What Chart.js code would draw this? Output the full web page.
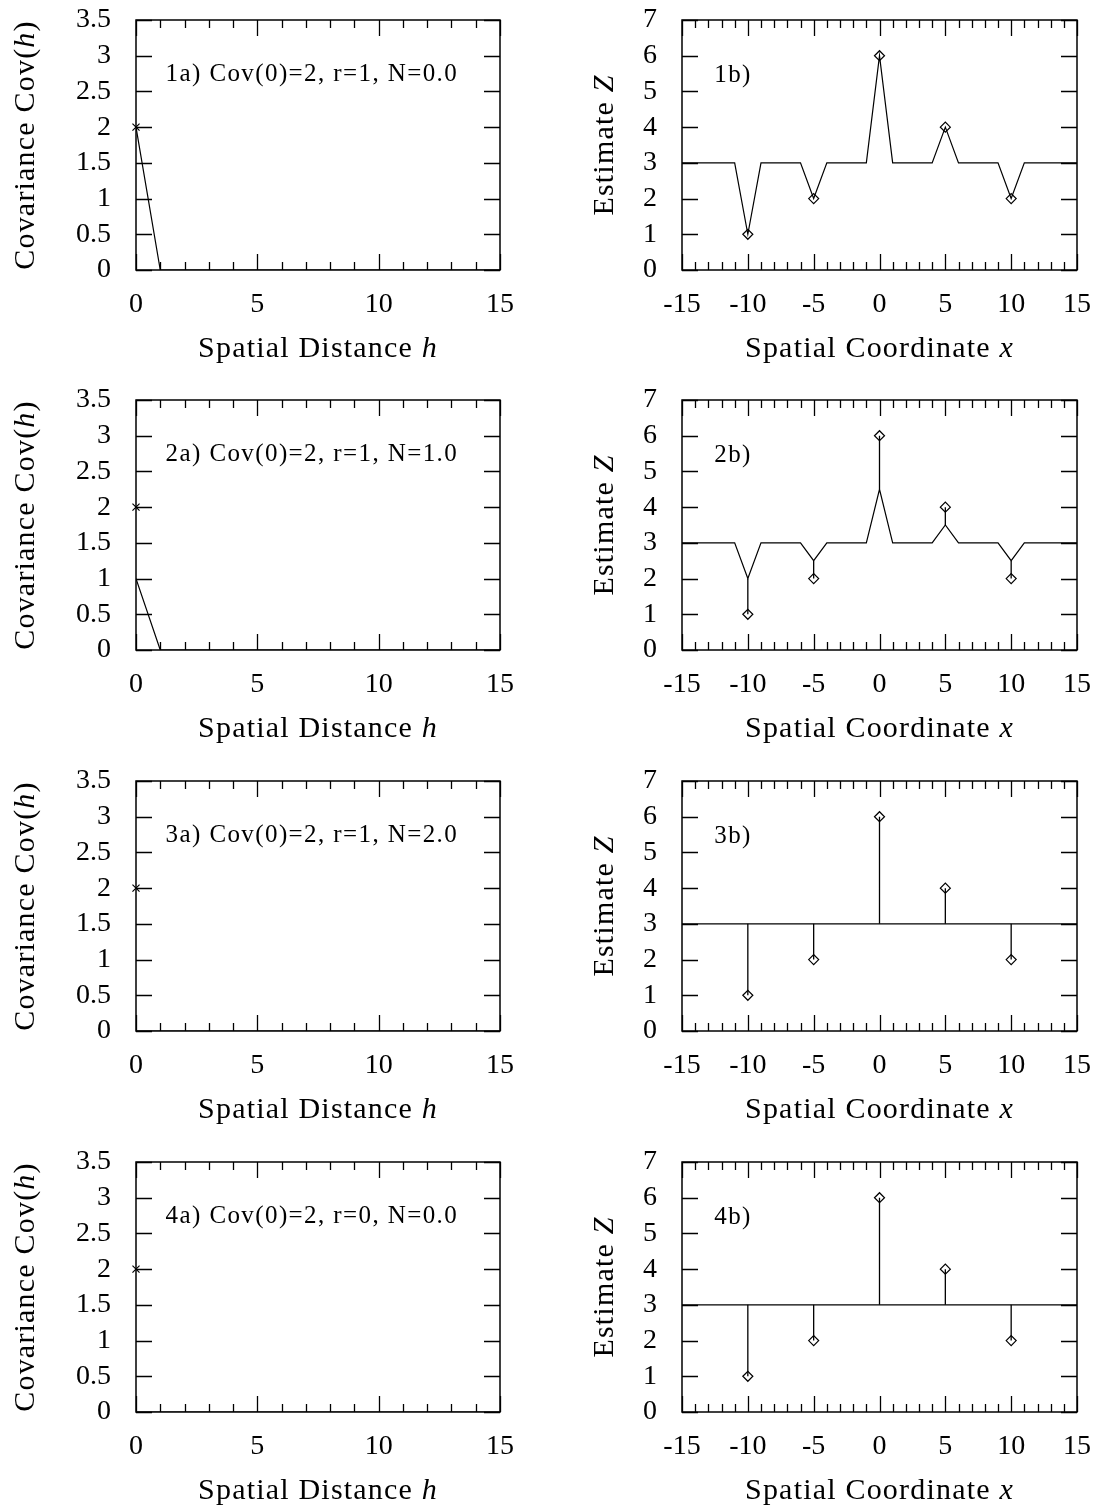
<!DOCTYPE html>
<html>
<head>
<meta charset="utf-8">
<script src="https://cdn.jsdelivr.net/npm/chart.js@4.4.1/dist/chart.umd.min.js"></script>
<style>
    html, body { margin: 0; padding: 0; background: #fff; }
    body { width: 1119px; height: 1508px; position: relative; overflow: hidden; }
    .painel { position: absolute; }
</style>
</head>
<body>
<script>
// observações (amostras) e grade de estimativa
const obsX = [-10, -5, 0, 5, 10];
const obsZ = [1, 2, 6, 4, 2];

const gradeX = [-15, -14, -13, -12, -11, -10, -9, -8, -7, -6, -5, -4, -3, -2, -1, 0,
                1, 2, 3, 4, 5, 6, 7, 8, 9, 10, 11, 12, 13, 14, 15];
const estimativa1 = [3, 3, 3, 3, 3, 1, 3, 3, 3, 3, 2, 3, 3, 3, 3, 6,
                     3, 3, 3, 3, 4, 3, 3, 3, 3, 2, 3, 3, 3, 3, 3];
const estimativa2 = [3, 3, 3, 3, 3, 2, 3, 3, 3, 3, 2.5, 3, 3, 3, 3, 4.5,
                     3, 3, 3, 3, 3.5, 3, 3, 3, 3, 2.5, 3, 3, 3, 3, 3];
const estimativa3 = [3, 3, 3, 3, 3, 3, 3, 3, 3, 3, 3, 3, 3, 3, 3, 3,
                     3, 3, 3, 3, 3, 3, 3, 3, 3, 3, 3, 3, 3, 3, 3];
const estimativa4 = [3, 3, 3, 3, 3, 3, 3, 3, 3, 3, 3, 3, 3, 3, 3, 3,
                     3, 3, 3, 3, 3, 3, 3, 3, 3, 3, 3, 3, 3, 3, 3];

// covariância em função da distância h
const distH = [0, 1, 2, 3, 4, 5, 6, 7, 8, 9, 10, 11, 12, 13, 14, 15];
const cov1 = [2, 0, 0, 0, 0, 0, 0, 0, 0, 0, 0, 0, 0, 0, 0, 0];
const cov2 = [1, 0, 0, 0, 0, 0, 0, 0, 0, 0, 0, 0, 0, 0, 0, 0];
const cov3 = [0, 0, 0, 0, 0, 0, 0, 0, 0, 0, 0, 0, 0, 0, 0, 0];
const cov4 = [0, 0, 0, 0, 0, 0, 0, 0, 0, 0, 0, 0, 0, 0, 0, 0];
const covZero = 2;

// rótulos dos eixos
const rotulosH = [0, 5, 10, 15];
const rotulosX = [-15, -10, -5, 0, 5, 10, 15];

const legendasA = ['1a) Cov(0)=2, r=1, N=0.0', '2a) Cov(0)=2, r=1, N=1.0',
                   '3a) Cov(0)=2, r=1, N=2.0', '4a) Cov(0)=2, r=0, N=0.0'];
const legendasB = ['1b)', '2b)', '3b)', '4b)'];

const FONTE = "'Liberation Serif', 'DejaVu Serif', serif";
const topoLinhas = [0, 380, 761, 1142];
const TOPO_AREA = 20;

// fixa o topo da área do gráfico (o layout automático reserva espaço demais)
const areaPlugin = {
    id: 'area',
    afterLayout(chart) {
        const a = chart.chartArea;
        a.top = TOPO_AREA;
        a.height = a.bottom - a.top;
        const y = chart.scales.y;
        y.top = TOPO_AREA;
        y.height = y.bottom - y.top;
        y.configure();
    }
};

// moldura fechada com ticks para dentro (maiores nos rótulos)
const molduraPlugin = {
    id: 'moldura',
    afterDraw(chart) {
        const { ctx, chartArea: a, scales } = chart;
        ctx.save();
        ctx.strokeStyle = '#000';
        ctx.lineWidth = 1.3;
        ctx.beginPath();
        scales.x.ticks.forEach(t => {
            const px = Math.round(scales.x.getPixelForValue(t.value)) + 0.5;
            const len = t.label !== '' ? 16 : 8;
            ctx.moveTo(px, a.bottom); ctx.lineTo(px, a.bottom - len);
            ctx.moveTo(px, a.top); ctx.lineTo(px, a.top + len);
        });
        scales.y.ticks.forEach(t => {
            const py = Math.round(scales.y.getPixelForValue(t.value)) + 0.5;
            ctx.moveTo(a.left, py); ctx.lineTo(a.left + 16, py);
            ctx.moveTo(a.right, py); ctx.lineTo(a.right - 16, py);
        });
        ctx.stroke();
        ctx.lineWidth = 1.5;
        ctx.strokeRect(a.left, a.top, a.right - a.left, a.bottom - a.top);
        ctx.restore();
    }
};

function larguraSegmentos(ctx, segs, tam) {
    let w = 0;
    segs.forEach(([txt, it]) => {
        ctx.font = (it ? 'italic ' : '') + tam + 'px ' + FONTE;
        w += ctx.measureText(txt).width;
    });
    return w;
}

function desenhaSegmentos(ctx, segs, tam, x0, y0) {
    let x = x0;
    segs.forEach(([txt, it]) => {
        ctx.font = (it ? 'italic ' : '') + tam + 'px ' + FONTE;
        ctx.fillText(txt, x, y0);
        x += ctx.measureText(txt).width;
    });
}

// títulos dos eixos com a variável em itálico
const titulosPlugin = {
    id: 'titulos',
    afterDraw(chart, args, opts) {
        const { ctx, chartArea: a } = chart;
        ctx.save();
        ctx.fillStyle = '#000';
        ctx.textBaseline = 'alphabetic';
        ctx.textAlign = 'left';
        ctx.letterSpacing = opts.espaco + 'px';
        const wx = larguraSegmentos(ctx, opts.x, opts.tamanho);
        desenhaSegmentos(ctx, opts.x, opts.tamanho, (a.left + a.right) / 2 - wx / 2, a.bottom + 87);
        const wy = larguraSegmentos(ctx, opts.y, opts.tamanho);
        ctx.translate(opts.yBase, (a.top + a.bottom) / 2);
        ctx.rotate(-Math.PI / 2);
        desenhaSegmentos(ctx, opts.y, opts.tamanho, -wy / 2, 0);
        ctx.restore();
    }
};

// legenda do painel, ancorada em coordenadas de dados
const anotacaoPlugin = {
    id: 'anotacao',
    afterDraw(chart, args, opts) {
        const { ctx, scales } = chart;
        ctx.save();
        ctx.fillStyle = '#000';
        ctx.textBaseline = 'alphabetic';
        ctx.textAlign = 'left';
        ctx.letterSpacing = '1.4px';
        ctx.font = '25px ' + FONTE;
        ctx.fillText(opts.texto, scales.x.getPixelForValue(opts.x), scales.y.getPixelForValue(opts.y));
        ctx.restore();
    }
};

function criarPainel(left, top, w) {
    const div = document.createElement('div');
    div.className = 'painel';
    div.style.left = left + 'px';
    div.style.top = top + 'px';
    const cv = document.createElement('canvas');
    cv.width = w;
    cv.height = 380;
    cv.style.width = w + 'px';
    cv.style.height = '380px';
    div.appendChild(cv);
    document.body.appendChild(div);
    return cv.getContext('2d');
}

function escalas(xMin, xMax, xRot, yMin, yMax, yStep, larguraY) {
    const fonteTick = { family: FONTE, size: 28 };
    return {
        x: {
            type: 'linear', min: xMin, max: xMax,
            afterFit(s) { s.height = 110; },
            grid: { display: false }, border: { display: false },
            ticks: {
                stepSize: 1, autoSkip: false, maxRotation: 0, padding: 10,
                color: '#000', font: fonteTick,
                callback: v => xRot.includes(v) ? String(v) : ''
            }
        },
        y: {
            type: 'linear', min: yMin, max: yMax,
            afterFit(s) { s.width = larguraY; },
            grid: { display: false }, border: { display: false },
            ticks: {
                stepSize: yStep, autoSkip: false, padding: 17,
                color: '#000', font: fonteTick,
                callback: v => String(v)
            }
        }
    };
}

function carregarCovariancia(linha, cov) {
    const ctx = criarPainel(0, topoLinhas[linha], 560);
    new Chart(ctx, {
        type: 'scatter',
        data: {
            datasets: [{
                data: distH.map((h, i) => ({ x: h, y: cov[i] })),
                showLine: true,
                borderColor: '#000',
                borderWidth: 1.2,
                pointRadius: 0
            }, {
                data: [{ x: 0, y: covZero }],
                pointStyle: 'crossRot',
                pointRadius: 5,
                borderColor: '#000',
                borderWidth: 1.2,
                clip: false
            }]
        },
        options: {
            responsive: false,
            animation: false,
            events: [],
            layout: { padding: { top: 20, right: 60, left: 0, bottom: 0 } },
            plugins: {
                legend: { display: false },
                tooltip: { enabled: false },
                titulos: {
                    tamanho: 30, espaco: 1.2, yBase: 34,
                    x: [['Spatial Distance ', false], ['h', true]],
                    y: [['Covariance Cov(', false], ['h', true], [')', false]]
                },
                anotacao: { texto: legendasA[linha], x: 1.22, y: 2.64 }
            },
            scales: escalas(0, 15, rotulosH, 0, 3.5, 0.5, 136)
        },
        plugins: [areaPlugin, molduraPlugin, titulosPlugin, anotacaoPlugin]
    });
}

function segmentosResiduo(est) {
    const pts = [];
    obsX.forEach((x, i) => {
        const k = gradeX.indexOf(x);
        pts.push({ x, y: est[k] }, { x, y: obsZ[i] }, { x, y: null });
    });
    return pts;
}

function carregarEstimativa(linha, est) {
    const ctx = criarPainel(560, topoLinhas[linha], 559);
    new Chart(ctx, {
        type: 'scatter',
        data: {
            datasets: [{
                data: gradeX.map((x, i) => ({ x, y: est[i] })),
                showLine: true,
                borderColor: '#000',
                borderWidth: 1.2,
                pointRadius: 0
            }, {
                data: segmentosResiduo(est),
                showLine: true,
                spanGaps: false,
                borderColor: '#000',
                borderWidth: 1.3,
                pointRadius: 0
            }, {
                data: obsX.map((x, i) => ({ x, y: obsZ[i] })),
                pointStyle: 'rectRot',
                pointRadius: 5,
                backgroundColor: 'rgba(255,255,255,0)',
                borderColor: '#000',
                borderWidth: 1.2,
                clip: false
            }]
        },
        options: {
            responsive: false,
            animation: false,
            events: [],
            layout: { padding: { top: 20, right: 42, left: 0, bottom: 0 } },
            plugins: {
                legend: { display: false },
                tooltip: { enabled: false },
                titulos: {
                    tamanho: 30, espaco: 1.2, yBase: 53,
                    x: [['Spatial Coordinate ', false], ['x', true]],
                    y: [['Estimate ', false], ['Z', true]]
                },
                anotacao: { texto: legendasB[linha], x: -12.55, y: 5.27 }
            },
            scales: escalas(-15, 15, rotulosX, 0, 7, 1, 122)
        },
        plugins: [areaPlugin, molduraPlugin, titulosPlugin, anotacaoPlugin]
    });
}

document.addEventListener('DOMContentLoaded', () => {
    [cov1, cov2, cov3, cov4].forEach((c, i) => carregarCovariancia(i, c));
    [estimativa1, estimativa2, estimativa3, estimativa4].forEach((e, i) => carregarEstimativa(i, e));
});
</script>
</body>
</html>
